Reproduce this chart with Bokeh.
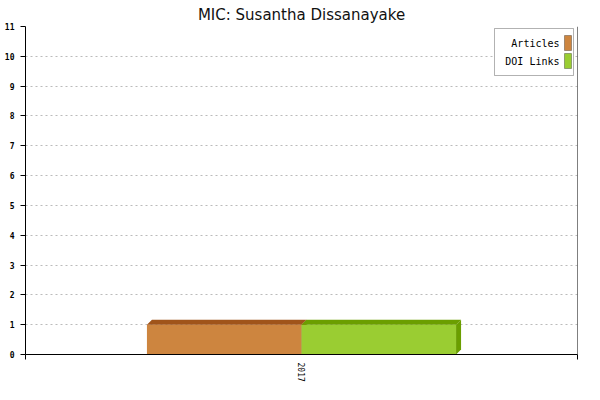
from bokeh.plotting import figure
from bokeh.models import (FixedTicker, LinearAxis, Range1d, BoxAnnotation, Label, Grid, Span)
from bokeh.embed import file_html
from bokeh.resources import INLINE

# ---- data ----
years = [2017]
series_names = ["Articles", "DOI Links"]
articles = [1]
doi_links = [1]
y_ticks = list(range(0, 12))

front_colors = ["#CD853F", "#9ACD32"]
dark_colors = ["#A0541A", "#6B9E00"]

W, H = 584, 384
BL, BR, BT, BB = 25, 7, 25, 28
p = figure(width=W, height=H, output_backend="svg", toolbar_location=None,
           x_range=Range1d(years[0] - 0.5, years[-1] + 0.5),
           y_range=Range1d(0, 11),
           min_border_left=BL, min_border_right=BR, min_border_top=BT, min_border_bottom=BB,
           x_axis_type=None, y_axis_type=None)

p.title.text = "MIC: Susantha Dissanayake"
p.title.align = "center"
p.title.text_font = "DejaVu Sans"
p.title.text_font_size = "15px"
p.title.text_font_style = "normal"
p.title.text_color = "#111111"
p.title.standoff = 6
p.title.offset = 0
p.outline_line_color = None
p.background_fill_color = "white"
p.border_fill_color = "white"

# axes
yax = LinearAxis(ticker=FixedTicker(ticks=y_ticks))
yax.axis_line_color = "black"
yax.axis_line_width = 1
yax.major_tick_out = 5
yax.major_tick_in = 0
yax.minor_tick_line_color = None
yax.major_label_standoff = 6
yax.major_label_text_font = "DejaVu Sans Mono"
yax.major_label_text_font_size = "8px"
yax.major_label_text_font_style = "bold"
yax.major_label_text_color = "black"
p.add_layout(yax, "left")

xax = LinearAxis(ticker=FixedTicker(ticks=years, minor_ticks=[years[0] - 0.5, years[-1] + 0.5]))
xax.major_label_overrides = {y: str(y) for y in years}
xax.axis_line_color = "black"
xax.major_tick_line_color = None
xax.major_tick_out = 0
xax.minor_tick_out = 5
xax.minor_tick_in = 0
xax.minor_tick_line_color = "black"
xax.major_label_orientation = "vertical"
xax.major_label_standoff = 3
xax.major_label_text_font = "DejaVu Sans Mono"
xax.major_label_text_font_size = "8px"
xax.major_label_text_color = "black"
p.add_layout(xax, "below")

# right frame line
p.add_layout(Span(location=years[-1] + 0.5, dimension="height",
                  line_color="black", line_width=1))

# grid
g = Grid(dimension=1, ticker=FixedTicker(ticks=y_ticks[1:]))
g.grid_line_color = "#BBBBBB"
g.grid_line_dash = "2 3"
p.add_layout(g)

# bars with 3D depth
bar_w = 0.28
frame_w_px = W - BL - BR
frame_h_px = H - BT - BB
dx = 5 * (1.0 / frame_w_px)
dy = 5 * (11.0 / frame_h_px)

for i, vals in enumerate([articles, doi_links]):
    for yr, v in zip(years, vals):
        x0 = yr + (i - 1) * bar_w
        x1 = x0 + bar_w
        p.quad(left=[x0], right=[x1], bottom=[0], top=[v],
               fill_color=front_colors[i], line_color=None)
        p.patch([x0, x0 + dx, x1 + dx, x1], [v, v + dy, v + dy, v],
                fill_color=dark_colors[i], line_color=None)
        p.patch([x1, x1 + dx, x1 + dx, x1], [0, dy, v + dy, v],
                fill_color=dark_colors[i], line_color=None)

# custom legend (label then swatch), screen units relative to frame
lb = BoxAnnotation(left=469, right=548, bottom=279, top=326,
                   left_units="screen", right_units="screen",
                   bottom_units="screen", top_units="screen",
                   fill_color="white", fill_alpha=1.0, line_color="black", line_width=1)
p.add_layout(lb)
for i, name in enumerate(series_names):
    cy = 311 - i * 18
    p.add_layout(Label(x=534, y=cy, x_units="screen", y_units="screen", text=name,
                       text_align="right", text_baseline="middle",
                       text_font="DejaVu Sans Mono", text_font_size="10px",
                       text_color="black"))
    p.add_layout(BoxAnnotation(left=539, right=546, bottom=cy - 7, top=cy + 8,
                               left_units="screen", right_units="screen",
                               bottom_units="screen", top_units="screen",
                               fill_color=front_colors[i], fill_alpha=1.0,
                               line_color="black", line_width=1))

open("out.html", "w").write(file_html(p, INLINE))
